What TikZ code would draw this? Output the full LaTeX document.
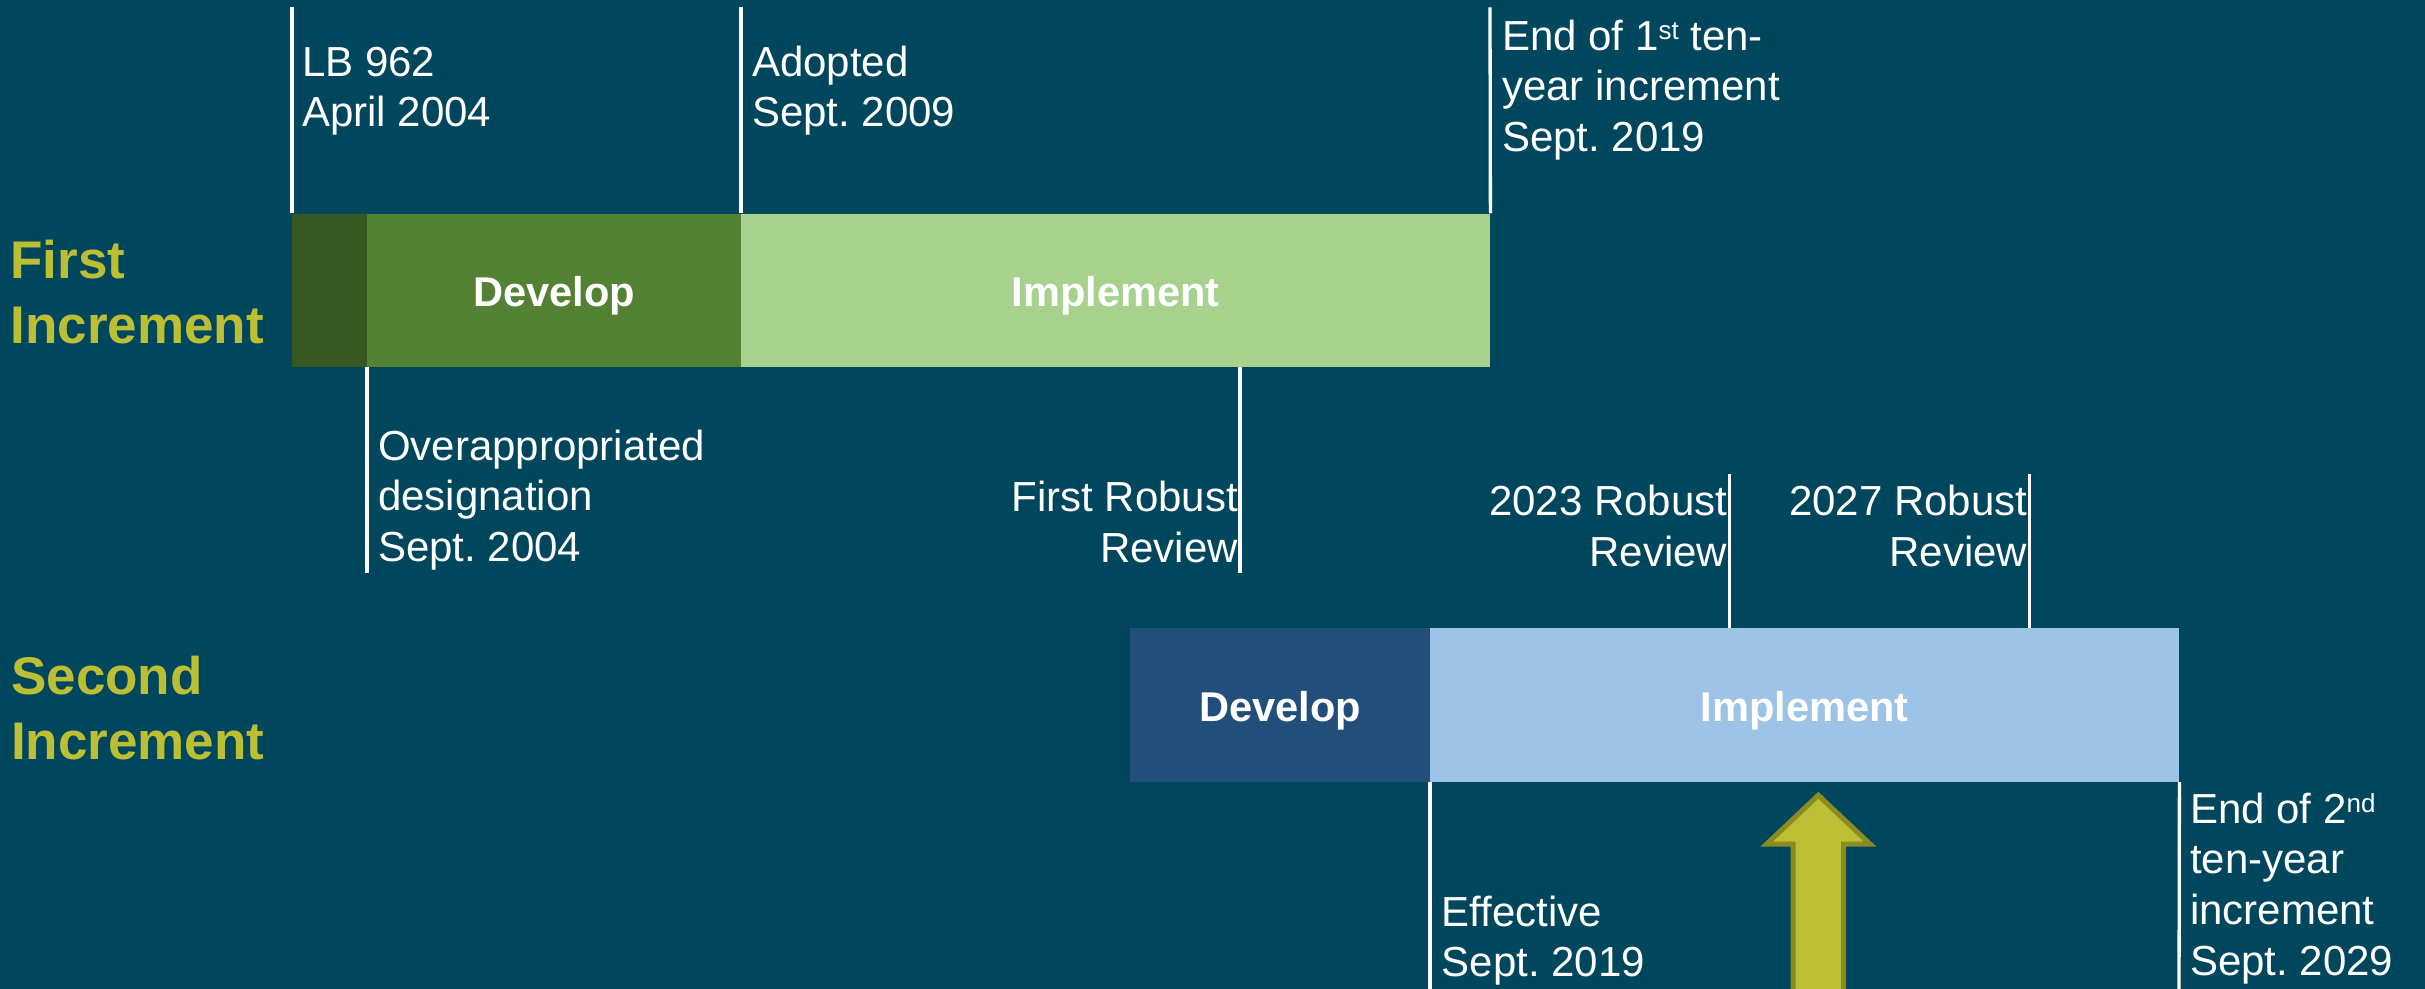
\documentclass[tikz,border=0pt]{standalone}
\usepackage{fontspec}
\setmainfont{Liberation Sans}
\frenchspacing
\definecolor{bg}{RGB}{0,71,94}
\definecolor{dkgreen}{RGB}{56,87,35}
\definecolor{devgreen}{RGB}{84,130,53}
\definecolor{impgreen}{RGB}{169,209,142}
\definecolor{devblue}{RGB}{33,79,121}
\definecolor{impblue}{RGB}{157,195,230}
\definecolor{incyel}{RGB}{188,191,51}
\definecolor{arrline}{RGB}{138,140,34}
\newcommand\fst{\rule{0pt}{36pt}}
\newcommand\bst{\rule{0pt}{46pt}}
\newcommand\sups[1]{\raisebox{11pt}{\fontsize{26}{26}\selectfont #1}}
\begin{document}
\begin{tikzpicture}[x=1pt,y=-1pt,
  bar/.style={rectangle, draw=none, inner sep=0pt, anchor=north west,
    font=\bfseries\fontsize{41.6}{50}\selectfont, text=white,
    text height=38pt, text depth=5pt},
  tick/.style={draw=white, line width=3.3pt},
  lbl/.style={font=\fontsize{42}{50.7}\selectfont, text=white, inner sep=0pt,
    align=left, anchor=north west},
  lblr/.style={lbl, align=right, anchor=north east},
  inc/.style={font=\bfseries\fontsize{53}{64.5}\selectfont, text=incyel,
    inner sep=0pt, align=left, anchor=north west}]
\useasboundingbox (0,0) rectangle (2425,988);
\fill[bg] (-10,-10) rectangle (2435,998);
\clip (0,0) rectangle (2425,988);

% bars
\node[bar, fill=dkgreen, minimum width=75pt, minimum height=153.4pt] (b0) at (292,213.3) {};
\node[bar, fill=devgreen, minimum width=374pt, minimum height=153.4pt] (d1) at (367,213.3) {Develop};
\node[bar, fill=impgreen, minimum width=749pt, minimum height=153.4pt] (i1) at (741,213.3) {Implement};
\node[bar, fill=devblue, minimum width=300pt, minimum height=153.7pt] (d2) at (1130,628) {Develop};
\node[bar, fill=impblue, minimum width=749pt, minimum height=153.7pt] (i2) at (1430,628) {Implement};

% tick end coordinates
\coordinate (t1) at (292,7.3);
\coordinate (t2) at (741,7.3);
\coordinate (t3) at (1490,7.3);
\coordinate (t4) at (367,572.5);
\coordinate (t5) at (1240,572.5);
\coordinate (t6) at (1729.5,473.9);
\coordinate (t7) at (2029.5,473.9);
\coordinate (t8) at (1430,995);
\coordinate (t9) at (2179,995);

\draw[tick] (b0.north west) -- (t1);
\draw[tick] (i1.north west) -- (t2);
\draw[tick] (i1.north east) -- (t3);
\draw[tick] (d1.south west) -- (t4);
\draw[tick] (i1.south -| t5) -- (t5);
\draw[tick] (i2.north -| t6) -- (t6);
\draw[tick] (i2.north -| t7) -- (t7);
\draw[tick] (i2.south west) -- (t8);
\draw[tick] (i2.south east) -- (t9);

% labels
\node[lbl] (lb) at (302,40) {\fst LB 962\\April 2004};
\node[lbl] (ad) at (752,40) {\fst Adopted\\Sept. 2009};
\node[lbl] (e1) at (1502,14) {\fst End of 1\sups{st} ten-\\year increment\\Sept. 2019};
\node[lbl] (ov) at (378,424) {\fst Overappropriated\\designation\\Sept. 2004};
\node[lblr] (fr) at (1238,475.4) {\fst First Robust\\Review};
\node[lblr] (r23) at (1727.5,479.5) {\fst 2023 Robust\\Review};
\node[lblr] (r27) at (2027.5,479.5) {\fst 2027 Robust\\Review};
\node[lbl] (ef) at (1441.5,890) {\fst Effective\\Sept. 2019};
\node[lbl] (e2) at (2190,787) {\fst End of 2\sups{nd}\\ten-year\\increment\\Sept. 2029};

\node[inc] (fi) at (10.3,232.3) {\bst First\\Increment};
\node[inc] (si) at (11,648.3) {\bst Second\\Increment};

% arrow
\filldraw[fill=incyel, draw=arrline, line width=5pt, line join=miter]
  (1818.3,795.2) -- (1766.5,844.2) -- (1793.2,844.2) -- (1793.2,1005)
  -- (1843.5,1005) -- (1843.5,844.2) -- (1870.2,844.2) -- cycle;
\end{tikzpicture}
\end{document}
